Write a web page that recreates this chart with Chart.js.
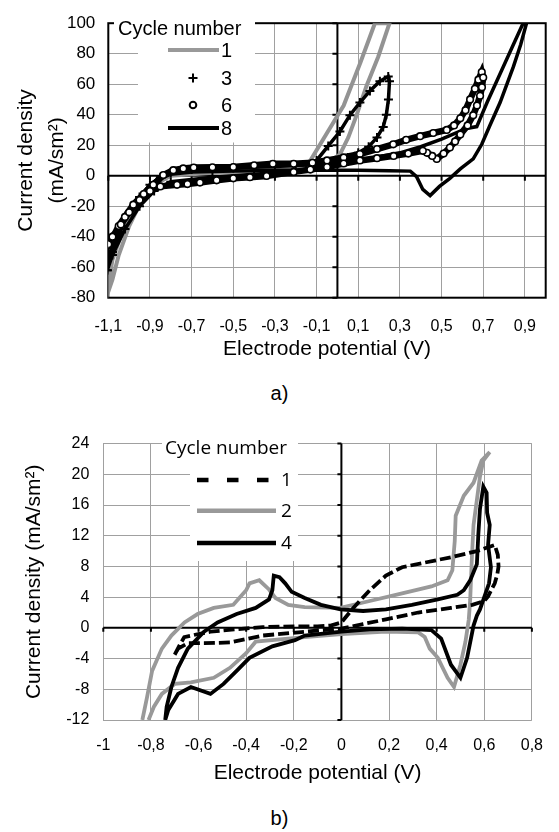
<!DOCTYPE html>
<html lang="en">
  <head>
    <meta charset="UTF-8" />
    <title>Cyclic voltammograms</title>
    <script src="https://cdn.jsdelivr.net/npm/chart.js@4.4.0/dist/chart.umd.min.js"></script>
    <style>
      body { margin: 0; background: #fff; }
      .box { position: absolute; left: 0; width: 559px; }
      .cap { position: absolute; left: 0; width: 559px; text-align: center;
             font: 20px 'Liberation Sans', Arial, sans-serif; line-height: 24px; }
    </style>
  </head>
  <body>
    <div class="box" style="top:0;height:380px"><canvas id="chartA"></canvas></div>
    <div class="cap" style="top:381px">a)</div>
    <div class="box" style="top:420px;height:380px"><canvas id="chartB"></canvas></div>
    <div class="cap" style="top:806px">b)</div>

    <script>
      // values: potential (V) and current density (mA/sm2)

      // a) cycles 1, 3, 6, 8
      const a1V = [-1.11, -1.08, -1.05, -1.0, -0.95, -0.9, -0.85, -0.8, -0.7, -0.5, -0.3, -0.2, -0.15, -0.13, -0.05, 0.03, 0.11, 0.18, 0.25, 0.196, 0.14, 0.093, 0.052, 0.012, -0.05, -0.2, -0.4, -0.6, -0.8, -0.88, -0.95, -1.02, -1.08, -1.11];
      const a1J = [-80, -68, -52, -33, -19, -9, -2, 1, 3, 4, 4.5, 5, 7, 10, 28, 46, 74, 100, 100, 78, 59, 40, 25, 14, 8, 4.5, 3, 2, 0, -6, -16, -32, -55, -80];

      const a3V = [-1.105, -1.08, -1.04, -1.0, -0.95, -0.9, -0.85, -0.8, -0.7, -0.5, -0.3, -0.15, -0.1, -0.044, 0.012, 0.06, 0.108, 0.156, 0.204, 0.244, 0.25, 0.245, 0.235, 0.22, 0.19, 0.15, 0.1, 0.05, 0, -0.2, -0.4, -0.6, -0.8, -0.88, -0.95, -1.02, -1.08, -1.105];
      const a3J = [-62, -50, -35, -24, -14, -6, -1, 2, 4, 5, 6, 7, 10, 19.5, 29, 39.7, 48, 55.6, 62, 65, 62, 50, 40, 32, 25, 19, 15, 12, 9, 3, 1, -1, -4, -10, -20, -35, -52, -62];

      const a6V = [-1.1, -1.076, -1.05, -1.02, -0.98, -0.93, -0.884, -0.836, -0.788, -0.74,
                   -0.69, -0.6, -0.5, -0.4, -0.31, -0.21, -0.12, -0.05, 0.03, 0.108,
                   0.19, 0.268, 0.33, 0.397, 0.46, 0.525, 0.56, 0.59, 0.615, 0.637,
                   0.66, 0.677, 0.693, 0.70, 0.694, 0.685, 0.67, 0.652, 0.625, 0.59,
                   0.565, 0.54, 0.51, 0.477, 0.455, 0.43, 0.41, 0.34, 0.27, 0.19,
                   0.108, 0.03, -0.05, -0.13, -0.21, -0.34, -0.42, -0.5, -0.58, -0.66,
                   -0.72, -0.77, -0.85, -0.9, -0.95, -1.0, -1.04, -1.08, -1.1];
      const a6J = [-45, -40, -33, -27, -19, -12, -6, 0.4, 3.6, 4.8,
                   5.3, 5.5, 5.7, 6.8, 7.8, 7.8, 8.5, 10, 12, 14.2,
                   17.5, 20.6, 23.5, 25.9, 28, 30, 33, 37.6, 43, 50,
                   57, 63, 68, 64.4, 58, 52.4, 46, 39.7, 33, 27,
                   22.5, 18.5, 14.5, 11, 13, 15, 16.3, 14.5, 13, 11.5,
                   10, 8, 5.7, 4, 2.5, -0.2, -1, -1.7, -3, -4.5,
                   -5.5, -6, -7, -10, -16, -24, -32, -40, -45];

      const a8V = [-1.1, -1.08, -1.05, -1.0, -0.95, -0.9, -0.85, -0.8, -0.7, -0.5,
                   -0.3, -0.1, 0.1, 0.25, 0.35, 0.38, 0.41, 0.445, 0.49, 0.54,
                   0.59, 0.652, 0.693, 0.733, 0.781, 0.845, 0.88, 0.91, 0.895, 0.84,
                   0.78, 0.72, 0.669, 0.62, 0.5, 0.4, 0.3, 0.1, -0.1, -0.3,
                   -0.5, -0.7, -0.8, -0.85, -0.9, -0.95, -1.0, -1.05, -1.1];
      const a8J = [-55, -45, -35, -24, -15, -7, -2, 1, 2.5, 3,
                   3.5, 3.6, 3.6, 3.3, 3, -0.6, -9, -13, -7, -1.7,
                   4.5, 11, 20.6, 33.2, 48, 71.5, 86, 101, 101, 84.5,
                   66.5, 48.5, 32.2, 31, 24, 19, 15, 10, 8, 7,
                   6, 5, 3, -1, -6, -14, -23, -34, -48];

      const aCycles = ['1', '3', '6', '8'];
      const aXTicks = [-1.1, -0.9, -0.7, -0.5, -0.3, -0.1, 0.1, 0.3, 0.5, 0.7, 0.9];
      const aXLabels = ['-1,1', '-0,9', '-0,7', '-0,5', '-0,3', '-0,1', '0,1', '0,3', '0,5', '0,7', '0,9'];
      const aYTicks = [-80, -60, -40, -20, 0, 20, 40, 60, 80, 100];
      const aYLabels = ['-80', '-60', '-40', '-20', '0', '20', '40', '60', '80', '100'];

      // b) cycles 1, 2, 4
      const b1V = [-0.70, -0.68, -0.66, -0.60, -0.55, -0.45, -0.33, -0.195, -0.1, -0.045,
                   0, 0.05, 0.119, 0.187, 0.255, 0.35, 0.46, 0.569, 0.644, 0.657,
                   0.66, 0.655, 0.644, 0.616, 0.6, 0.55, 0.46, 0.323, 0.187, 0.091,
                   0, -0.154, -0.33, -0.468, -0.577, -0.645, -0.686, -0.70];
      const b1J = [-3.5, -2.3, -1.2, -0.8, -0.5, -0.2, 0.1, 0.2, 0.2, 0.3,
                   0.7, 2.6, 4.9, 6.8, 7.9, 8.5, 9.2, 10.0, 10.8, 9.5,
                   8.0, 7.0, 5.8, 4.1, 3.5, 3.0, 2.6, 2.0, 1.1, 0.5,
                   -0.1, -0.5, -1.0, -1.9, -2.0, -2.0, -2.7, -3.5];

      const b2V = [-0.836, -0.816, -0.795, -0.754, -0.714, -0.659, -0.604, -0.536, -0.454, -0.40,
                   -0.386, -0.345, -0.304, -0.277, -0.223, -0.154, -0.004, 0.119, 0.255, 0.378,
                   0.446, 0.466, 0.476, 0.48, 0.514, 0.555, 0.589, 0.623, 0.596, 0.582,
                   0.555, 0.548, 0.541, 0.535, 0.521, 0.50, 0.473, 0.446, 0.405, 0.371,
                   0.35, 0.323, 0.187, 0, -0.154, -0.36, -0.40, -0.468, -0.536, -0.632,
                   -0.70, -0.754, -0.788, -0.81];
      const b2J = [-12, -9, -5.6, -2.7, -1.0, 0.7, 1.8, 2.6, 3.0, 4.9,
                   5.8, 6.2, 5.0, 3.9, 3.0, 2.7, 2.6, 3.5, 4.5, 5.4,
                   6.2, 7.5, 11.3, 14.6, 17.2, 18.9, 21.8, 22.9, 21.8, 19.7,
                   13.4, 9.2, 3.7, 1.1, -1.8, -4.8, -7.7, -6.5, -3.9, -2.7,
                   -1.2, -0.6, -0.5, -0.8, -1.2, -1.8, -3.3, -5.2, -6.5, -7.1,
                   -7.3, -8.6, -10.3, -12];

      const b4V = [-0.74, -0.734, -0.714, -0.686, -0.645, -0.577, -0.52, -0.44, -0.36, -0.304,
                   -0.29, -0.284, -0.26, -0.236, -0.209, -0.154, -0.086, -0.004, 0.091, 0.187,
                   0.296, 0.405, 0.487, 0.514, 0.541, 0.569, 0.575, 0.582, 0.596, 0.61,
                   0.612, 0.623, 0.616, 0.628, 0.62, 0.582, 0.569, 0.555, 0.528, 0.50,
                   0.46, 0.419, 0.378, 0.255, 0.119, 0, -0.154, -0.195, -0.29, -0.386,
                   -0.44, -0.495, -0.55, -0.632, -0.686, -0.727, -0.74];
      const b4J = [-12, -10.3, -7.7, -5.2, -2.7, -0.5, 0.7, 1.8, 2.6, 3.7,
                   4.9, 6.8, 6.6, 5.8, 4.7, 3.9, 3.0, 2.4, 2.2, 2.4,
                   3.0, 3.7, 4.3, 4.9, 6.2, 8.3, 12.1, 15.5, 18.4, 17.6,
                   15, 13.4, 10.8, 7.9, 5.8, 2.4, 1.6, 0.3, -3.9, -6.5,
                   -4.8, -1.4, -0.3, -0.1, -0.2, -0.5, -1.0, -1.6, -2.4, -3.9,
                   -5.6, -7.3, -8.6, -7.7, -8.6, -10.7, -12];

      const bCycles = ['1', '2', '4'];
      const bXTicks = [-1, -0.8, -0.6, -0.4, -0.2, 0, 0.2, 0.4, 0.6, 0.8];
      const bXLabels = ['-1', '-0,8', '-0,6', '-0,4', '-0,2', '0', '0,2', '0,4', '0,6', '0,8'];
      const bYTicks = [-12, -8, -4, 0, 4, 8, 12, 16, 20, 24];
      const bYLabels = ['-12', '-8', '-4', '0', '4', '8', '12', '16', '20', '24'];

      const pts = (v, j) => v.map((x, i) => ({ x: x, y: j[i] }));

      Chart.defaults.font.family = "'Liberation Sans', Arial, sans-serif";
      Chart.defaults.color = '#000';

      // black zero axes with small tick marks, optional black frame
      function zeroAxes(tick, frame) {
        return {
          id: 'zeroAxes',
          beforeDatasetsDraw(chart) {
            const { ctx, chartArea: a, scales: { x, y } } = chart;
            const x0 = x.getPixelForValue(0);
            const y0 = y.getPixelForValue(0);
            ctx.save();
            ctx.strokeStyle = '#000';
            ctx.lineWidth = 2;
            if (frame) ctx.strokeRect(a.left, a.top, a.right - a.left, a.bottom - a.top);
            ctx.beginPath();
            ctx.moveTo(x0, a.top); ctx.lineTo(x0, a.bottom);
            ctx.moveTo(a.left, y0); ctx.lineTo(a.right, y0);
            y.ticks.forEach(t => {
              const p = y.getPixelForValue(t.value);
              ctx.moveTo(x0 - tick, p); ctx.lineTo(x0, p);
            });
            x.ticks.forEach(t => {
              const p = x.getPixelForValue(t.value);
              ctx.moveTo(p, y0); ctx.lineTo(p, y0 + tick);
            });
            ctx.stroke();
            ctx.restore();
          }
        };
      }

      function hline(ctx, x1, x2, y, color, w, dash) {
        ctx.save();
        ctx.strokeStyle = color;
        ctx.lineWidth = w;
        ctx.setLineDash(dash || []);
        ctx.beginPath();
        ctx.moveTo(x1, y); ctx.lineTo(x2, y);
        ctx.stroke();
        ctx.restore();
      }

      const legendA = {
        id: 'legendA',
        afterDatasetsDraw(chart) {
          const ctx = chart.ctx;
          ctx.save();
          ctx.fillStyle = '#fff';
          ctx.fillRect(114, 13, 141, 30);
          ctx.fillRect(138, 40, 117, 102.5);
          ctx.fillStyle = '#000';
          ctx.textBaseline = 'middle';
          ctx.font = "20px 'Liberation Sans'";
          ctx.fillText('Cycle number', 118, 29);
          const rows = [50, 78, 105, 128];
          hline(ctx, 168, 219, rows[0], '#999', 4);
          ctx.strokeStyle = '#000';
          ctx.lineWidth = 2;
          ctx.beginPath();
          ctx.moveTo(188.5, rows[1]); ctx.lineTo(197.5, rows[1]);
          ctx.moveTo(193, rows[1] - 4.5); ctx.lineTo(193, rows[1] + 4.5);
          ctx.stroke();
          ctx.beginPath();
          ctx.arc(193, rows[2], 3.3, 0, Math.PI * 2);
          ctx.fillStyle = '#fff';
          ctx.fill();
          ctx.stroke();
          hline(ctx, 168, 219, rows[3], '#000', 4);
          ctx.fillStyle = '#000';
          aCycles.forEach((c, i) => ctx.fillText(c, 221, rows[i] + 1));
          ctx.restore();
        }
      };

      const legendB = {
        id: 'legendB',
        afterDatasetsDraw(chart) {
          const ctx = chart.ctx;
          ctx.save();
          ctx.fillStyle = '#fff';
          ctx.fillRect(162, 14.5, 136, 34);
          ctx.fillRect(190, 47, 108, 94);
          ctx.fillStyle = '#000';
          ctx.textBaseline = 'middle';
          ctx.font = "19px 'Open Sans'";
          ctx.fillText('Cycle number', 165, 29);
          const rows = [60, 90.7, 123];
          hline(ctx, 197, 269, rows[0], '#000', 4.5, [11.5, 18.5]);
          hline(ctx, 197, 276, rows[1], '#999', 4.5);
          hline(ctx, 197, 276, rows[2], '#000', 4.5);
          bCycles.forEach((c, i) => ctx.fillText(c, 281, rows[i] + 1));
          ctx.restore();
        }
      };

      const grid = { color: '#a0a0a0', lineWidth: 1, drawTicks: false };

      new Chart(document.getElementById('chartA'), {
        type: 'scatter',
        data: {
          datasets: [
            { label: aCycles[2], data: pts(a6V, a6J), showLine: true, borderColor: '#000', borderWidth: 6.5,
              pointRadius: 3.3, pointBorderWidth: 1.6, pointBackgroundColor: '#fff', pointBorderColor: '#000', order: 0 },
            { label: aCycles[1], data: pts(a3V, a3J), showLine: true, borderColor: '#000', borderWidth: 3.5,
              pointStyle: 'cross', pointRadius: 4.5, pointBorderWidth: 2, pointBorderColor: '#000', order: 1 },
            { label: aCycles[3], data: pts(a8V, a8J), showLine: true, borderColor: '#000', borderWidth: 3.5,
              pointRadius: 0, order: 2 },
            { label: aCycles[0], data: pts(a1V, a1J), showLine: true, borderColor: '#939393', borderWidth: 4,
              pointRadius: 0, order: 3 }
          ]
        },
        options: {
          responsive: true,
          maintainAspectRatio: false,
          animation: false,
          devicePixelRatio: 1,
          layout: { padding: { left: 0, right: 13.3, top: 15, bottom: 0 } },
          plugins: { legend: { display: false }, tooltip: { enabled: false } },
          scales: {
            x: {
              type: 'linear', min: -1.1, max: 1.0,
              afterBuildTicks: s => { s.ticks = aXTicks.map(v => ({ value: v })); },
              afterFit: s => { s.height = 380 - 297.7; },
              grid: grid, border: { display: false },
              ticks: { padding: 19, maxRotation: 0, autoSkip: false, font: { size: 16 },
                       callback: (v, i) => aXLabels[i] },
              title: { display: true, text: 'Electrode potential (V)', font: { size: 21 },
                       padding: { bottom: 18 } }
            },
            y: {
              type: 'linear', min: -80, max: 100,
              afterBuildTicks: s => { s.ticks = aYTicks.map(v => ({ value: v })); },
              afterFit: s => { s.width = 108.3; },
              grid: grid, border: { display: false },
              ticks: { padding: 13, font: { size: 17 }, callback: (v, i) => aYLabels[i] },
              title: { display: true, text: ['Current density', '(mA/sm²)'],
                       font: { size: 21, lineHeight: 1.5 }, padding: { top: 10 } }
            }
          }
        },
        plugins: [zeroAxes(5, true), legendA]
      });

      new Chart(document.getElementById('chartB'), {
        type: 'scatter',
        data: {
          datasets: [
            { label: bCycles[2], data: pts(b4V, b4J), showLine: true, borderColor: '#000', borderWidth: 3.8,
              pointRadius: 0, order: 0 },
            { label: bCycles[0], data: pts(b1V, b1J), showLine: true, borderColor: '#000', borderWidth: 3.8,
              borderDash: [11, 4], pointRadius: 0, order: 1 },
            { label: bCycles[1], data: pts(b2V, b2J), showLine: true, borderColor: '#999', borderWidth: 3.8,
              pointRadius: 0, order: 2 }
          ]
        },
        options: {
          responsive: true,
          maintainAspectRatio: false,
          animation: false,
          devicePixelRatio: 1,
          layout: { padding: { left: 0, right: 15.7, top: 15.7, bottom: 0 } },
          plugins: { legend: { display: false }, tooltip: { enabled: false } },
          scales: {
            x: {
              type: 'linear', min: -1, max: 0.8,
              afterBuildTicks: s => { s.ticks = bXTicks.map(v => ({ value: v })); },
              afterFit: s => { s.height = 80; },
              grid: grid, border: { display: false },
              ticks: { padding: 16, maxRotation: 0, autoSkip: false, font: { size: 16 },
                       callback: (v, i) => bXLabels[i] },
              title: { display: true, text: 'Electrode potential (V)', font: { size: 21 },
                       padding: { bottom: 14.4 } }
            },
            y: {
              type: 'linear', min: -12, max: 24,
              afterBuildTicks: s => { s.ticks = bYTicks.map(v => ({ value: v })); },
              afterFit: s => { s.width = 103.3; },
              grid: grid, border: { display: false },
              ticks: { padding: 14, font: { size: 16 }, callback: (v, i) => bYLabels[i] },
              title: { display: true, text: 'Current density (mA/sm²)', font: { size: 21 },
                       padding: { top: 21.4 } }
            }
          }
        },
        plugins: [zeroAxes(4, false), legendB]
      });
    </script>
  </body>
</html>
